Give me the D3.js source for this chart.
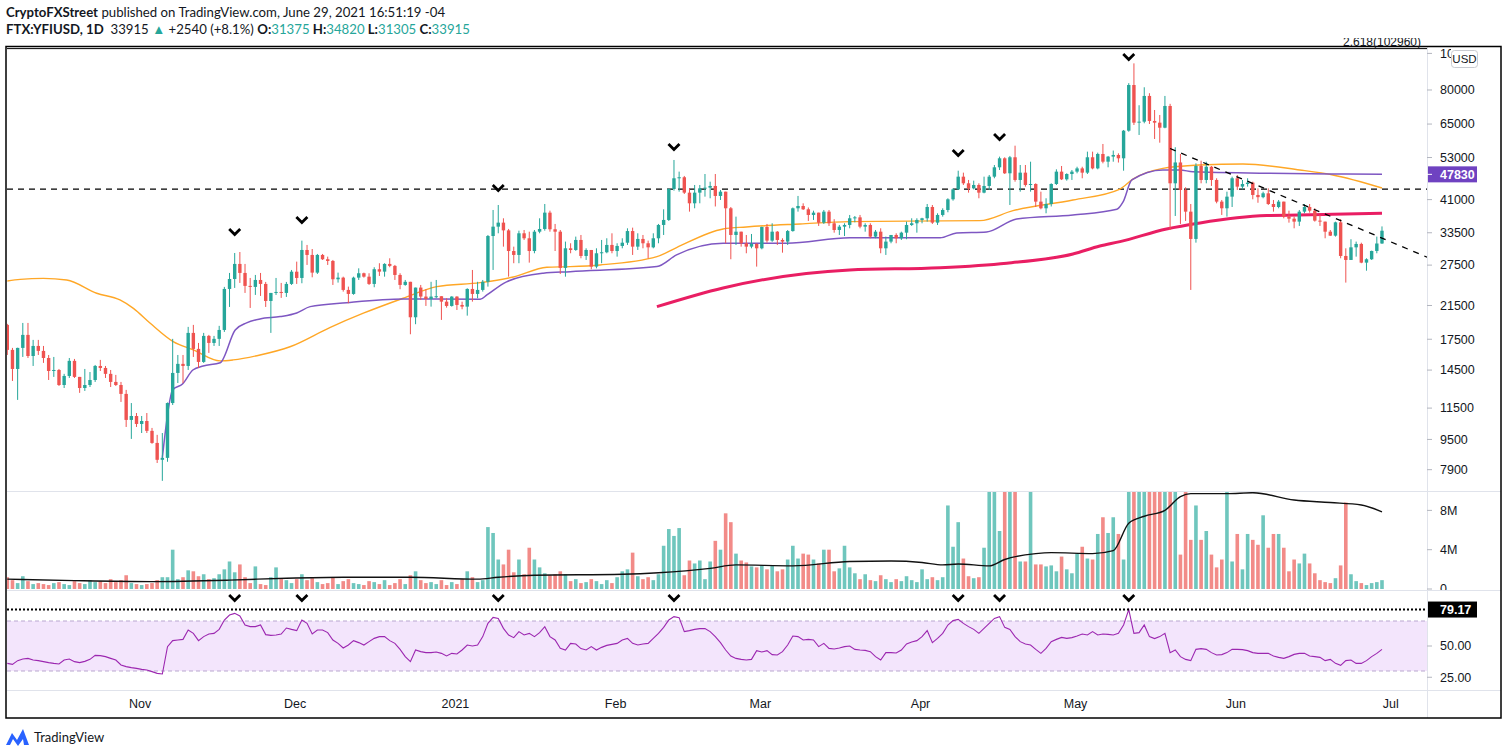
<!DOCTYPE html>
<html><head><meta charset="utf-8">
<script src="https://cdn.jsdelivr.net/npm/d3@7"></script>
<style>html,body{margin:0;padding:0;background:#fff;}svg{display:block;}</style>
</head><body><svg id="c" width="1508" height="755"></svg>
<script>
// ---------------- DATA ----------------
const firstDay = "2020-10-06";
const lastDay = "2021-06-29";
const open = [19100,16400,14600,16600,17970,15800,16800,16300,15610,14420,14510,13240,13990,15340,13910,13000,13240,13650,14870,14690,14170,13490,13240,12540,10700,10960,10440,10630,10010,9300,8390,8490,11860,14250,15060,14870,18190,16500,15240,17860,17110,17540,18520,23780,25270,27700,26220,24230,24080,25120,24520,22100,23210,23350,23210,24520,26420,25430,30160,29260,26270,29260,28500,28210,25230,25480,23640,23070,25480,26170,25630,24520,26820,26430,27700,27370,25900,24370,24840,20010,23980,22700,22380,22700,22750,22010,21440,22700,21570,21350,23780,23070,23640,24840,32840,34770,35630,33990,29970,29260,33390,32390,29970,33720,34280,37870,34220,33720,27040,30470,30160,32060,29080,30160,27250,29560,29740,31100,29970,30910,31530,33850,30780,32260,31420,30650,32390,35130,36220,43740,46700,46990,42780,40090,42780,43920,44100,44560,41930,43040,38890,33050,33720,31420,30780,31290,30470,34700,31930,33720,32060,31740,33850,38890,39440,38650,37340,37870,35630,38100,35490,34070,34770,35130,36590,36800,34770,35130,32720,33720,30470,31740,33050,32390,33520,35130,35490,36220,36590,39200,35630,37340,38490,41080,43650,47160,45290,43920,44830,42780,44560,47160,49930,52750,48140,53080,46220,48330,44830,45100,40500,38890,39920,45100,48630,46400,47930,48630,49600,48330,53080,49600,54160,51670,53290,53830,52750,62420,82470,65550,65950,77150,66230,65550,63570,72570,45290,51430,43480,38100,32260,50330,46220,50100,46220,40500,38890,41750,46700,44380,45100,45470,42180,41620,42610,39920,39200,40500,36960,36500,35850,38100,39200,38330,36070,35850,33720,32910,35700,29080,28380,30650,31290,27920,28500,29980,31375];
const high = [19220,16600,16620,19330,19330,17430,17430,16800,15900,15710,14600,14170,15610,15520,13910,14600,14330,14960,15430,14870,14510,14080,13490,12850,11860,11160,10960,11160,10190,9770,9880,11900,17540,15900,15900,18870,19100,17110,18190,17970,17860,18990,24080,26220,29610,29790,27700,25430,25900,26220,24820,23210,25430,24670,24820,26700,28090,31930,31100,30340,29440,29440,28960,28380,26270,25630,24120,25630,26970,26270,26170,27150,27820,27820,28670,27530,26170,25120,24840,23980,24370,23740,24840,25120,22750,22470,22750,22750,22010,23880,26700,24840,25120,33050,38490,39680,36590,34290,30780,33930,34070,33720,34070,36590,39920,38330,35350,34070,31740,31420,32720,33050,30470,30160,30470,32060,32390,33390,31420,32390,34420,34560,33390,33050,31930,33390,35350,38650,43920,52210,48630,47370,43920,44830,44830,47930,45740,47930,43480,43040,39200,36960,33720,33050,33250,31420,34770,35350,35490,33850,32390,34070,39080,41930,40090,39080,38330,37870,38490,38490,36390,35130,35490,37340,37100,37340,35490,35490,34070,34420,32720,33050,33390,33720,35850,36590,36590,36700,39920,39680,37720,38890,41340,43920,48910,48330,46220,46030,45290,47160,47650,50640,53290,53080,53510,56970,50640,50640,51670,45290,43040,41340,45290,49320,50330,48140,49120,50100,50100,54930,54930,54600,57560,53510,55300,54370,62690,83400,94100,72900,81340,78440,70820,68690,77150,73530,56430,54160,44210,39920,51160,51990,51670,50330,46700,40910,43040,47160,47650,46220,46700,45740,43920,43040,43920,40910,40910,40500,38330,36960,38490,39920,39920,38890,37340,35850,34070,35850,36390,30470,32200,31740,31530,28670,30040,32720,34820];
const low = [15900,13570,12090,15710,15610,14870,15900,15150,13650,13910,13160,13000,13820,13820,12620,12770,13080,13490,14420,13820,13080,13160,11940,10250,9530,10250,9880,9880,9250,8230,7380,8290,11720,13400,13400,14510,15710,14690,15150,16100,16800,16800,18300,21310,23930,24670,23210,21180,22930,22790,21310,18190,22930,22520,22650,24370,24520,24620,27530,25530,26060,28380,27530,24370,24720,23400,21800,22950,25120,25480,24370,24030,25740,25630,27150,25120,23740,24250,18040,19180,22240,21440,21350,22470,19690,21220,21350,20920,21010,20210,22010,22470,23400,24120,26700,33390,30780,25630,27820,27820,32060,27920,29560,33390,33930,33720,29970,26060,25630,29560,30000,28670,28380,26820,26970,27820,29560,29560,28960,30470,31100,29260,30160,30470,28670,30470,31420,33050,36000,43300,43040,42430,38100,38890,40090,41750,41340,39320,40910,31420,28500,31100,30780,29560,30470,27250,30280,31530,31700,31100,29670,31100,33720,38100,38490,36000,36220,34920,35350,34920,33520,33050,32840,34420,35700,34420,33720,32390,32390,29560,29260,31420,31420,32060,32200,34920,33520,35490,35850,35350,35130,36960,37960,40740,43480,44830,42780,43650,41340,42610,43480,46700,49120,47930,39680,45740,43040,44380,43040,39200,38650,37720,39320,44830,46200,46030,46220,48140,46700,47930,49320,49320,51160,49930,51670,51400,48910,62030,64630,60810,65310,65020,59340,58020,63350,34070,37110,35350,36000,23640,31540,45290,45290,44560,40090,37340,36960,39200,43480,43650,44380,41080,40220,41340,39680,38100,38890,36590,35630,34420,34920,37720,37870,35850,34920,32390,32840,32720,28670,24720,28380,28960,27820,26580,28380,29560,31305];
const close = [16400,14600,16600,17970,15800,16800,16300,15610,14420,14510,13240,13990,15340,13910,13000,13240,13650,14870,14690,14170,13490,13240,12540,10700,10960,10440,10630,10010,9300,8390,8490,11860,14250,15060,14870,18190,16500,15240,17860,17110,17540,18520,23780,25270,27700,26220,24230,24080,25120,24520,22100,23210,23350,23210,24520,26420,25430,30160,29260,26270,29260,28500,28210,25230,25480,23640,23070,25480,26170,25630,24520,26820,26430,27700,27370,25900,24370,24840,20010,23980,22700,22380,22700,22750,22010,21440,22700,21570,21350,23780,23070,23640,24840,32840,34770,35630,33990,29970,29260,33390,32390,29970,33720,34280,37870,34220,33720,27040,30470,30160,32060,29080,30160,27250,29560,29740,31100,29970,30910,31530,33850,30780,32260,31420,30650,32390,35130,36220,43740,46700,46990,42780,40090,42780,43920,44100,44560,41930,43040,38890,33050,33720,31420,30780,31290,30470,34700,31930,33720,32060,31740,33850,38890,39440,38650,37340,37870,35630,38100,35490,34070,34770,35130,36590,36800,34770,35130,32720,33720,30470,31740,33050,32390,33520,35130,35490,36220,36590,39200,35630,37340,38490,41080,43650,47160,45290,43920,44830,42780,44560,47160,49930,52750,48140,53080,46220,48330,44830,45100,40500,38890,39920,45100,48630,46400,47930,48630,49600,48330,53080,49600,54160,51670,53290,53830,52750,62420,82470,65550,65950,77150,66230,65550,63570,72570,45290,51430,43480,38100,32260,50330,46220,50100,46220,40500,38890,41750,46700,44380,45100,45470,42180,41620,42610,39920,39200,40500,36960,36500,35850,38100,39200,38330,36070,35850,33720,32910,35700,29080,28380,30650,31290,27920,28500,29980,31375,33915];
// volume in millions of USD
const volumeM = [1.2,0.9,0.6,1.3,0.8,0.5,0.6,0.5,0.4,0.6,0.7,0.5,0.4,0.8,0.6,0.5,0.9,0.7,0.8,0.6,1.0,0.7,0.9,1.4,0.6,0.5,0.4,0.5,0.6,0.9,1.2,1.2,4.0,1.0,1.2,1.9,1.8,1.3,1.5,1.0,1.1,1.5,2.0,2.8,1.7,2.5,1.2,0.6,2.3,0.5,0.4,1.2,2.2,1.0,0.9,0.6,1.0,1.5,0.9,1.1,0.7,0.5,0.6,1.2,0.5,0.8,1.0,0.6,0.5,0.4,0.8,0.7,0.5,0.9,0.4,0.6,1.0,0.5,1.4,1.8,0.9,0.6,0.7,0.5,0.9,0.4,0.7,0.5,1.0,1.8,1.2,0.7,0.9,6.3,5.7,3.0,2.5,4.0,1.7,3.0,1.5,4.2,3.0,2.2,1.6,1.4,1.5,1.8,1.5,0.8,1.0,0.6,0.7,1.0,0.8,0.5,0.9,0.6,1.2,1.8,2.0,3.7,1.3,1.0,1.2,0.9,1.5,4.4,6.1,5.4,6.2,1.4,2.9,2.6,2.9,1.0,2.8,4.9,4.0,7.7,6.8,3.6,2.9,2.7,2.3,2.2,2.4,2.0,2.4,1.8,2.0,3.0,4.4,3.1,3.6,3.5,3.0,2.6,4.0,4.0,1.8,2.1,4.4,2.2,1.6,1.0,1.5,0.9,0.8,1.4,1.0,0.7,1.0,0.8,1.3,0.9,0.7,2.0,1.0,1.2,0.9,1.2,8.5,4.3,6.8,3.1,1.3,1.1,1.2,4.2,12,12,5.9,12,12,12,2.8,2.8,12,2.5,2.5,2.3,2.4,1.8,3.3,2.0,1.6,3.6,4.3,3.1,3.0,5.6,7.3,5.7,7.3,5.6,3.0,12,12,12,12,12,12,12,12,12,12,3.5,12,5.0,8.5,5.0,5.9,3.5,2.2,3.0,12,2.8,5.6,2.0,5.6,5.0,4.5,7.5,4.2,5.6,5.6,4.2,1.8,3.0,2.6,3.6,2.6,1.6,0.9,0.7,0.6,1.1,2.4,8.8,1.5,0.8,0.6,0.4,0.6,0.7,0.9];
const rsi = [36.1,35.3,38.3,39.6,40.1,38.8,38.3,37.5,36.7,36.1,35.6,38.8,39.6,37.5,36.7,37.7,39.3,42.5,42.3,41.5,40.1,38.8,34.8,33.5,32.7,32.1,31.3,30.8,29.5,28.1,27.6,49.5,54.3,54.8,55.3,62.8,60.1,54.3,57.5,59.6,60.1,63.3,70.8,74.8,76.1,74,66.8,65.5,65.5,66.8,59.1,58.5,58.8,59.6,64.4,63.3,62.3,70.8,68.1,59.6,62.8,62.8,60.7,54.8,52.1,48.4,50.8,54.3,52.7,50.8,53.5,56.1,57.5,57.5,54.3,52.1,47.3,41.5,37.5,46.8,45.5,44.7,44.7,45.2,44.1,42,44.1,43.6,46.8,50.8,50,50.8,57.5,68.1,72.9,72.1,64.1,58.8,56.7,61.5,58.8,60.1,57.5,60.7,65.5,57.5,54.8,48.1,46.8,52.1,51.6,47.9,46.8,49.5,46.8,48.9,50.5,51.3,52.1,54.8,56.1,52.1,50.8,51.6,52.1,56.1,60.1,64.9,70.8,73.5,72.7,61.5,62.3,63.3,63.9,63.9,61.5,57.5,52.7,46.8,42,40.1,39.3,38.8,39.3,46.3,45.2,46.3,43.1,42.8,45.5,50.8,58,57.5,54.8,55.3,54.8,49.5,52.1,48.1,47.6,48.4,49.5,50,47.3,46.8,46.5,45.5,41.5,38.8,44.7,44.7,44.4,46.8,51.6,53.2,54.3,57.5,62.3,52.7,56.1,60.1,66.8,70.3,71.3,68.1,65.5,63.3,60.1,64.1,68.1,72.1,73.5,64.9,63.3,57.5,53.5,51.6,50.8,47.3,44.1,48.1,53.5,55.3,56.9,56.1,56.7,58,59.6,58.8,61.5,58.8,59.6,59.3,58.8,60.1,66.8,79.17,60.1,60.7,66.8,57.5,55.9,57.5,60.1,44.7,46.8,41.5,39.3,38.3,47.3,47.9,47.3,44.7,42.8,43.1,44.7,47.3,47.3,47.1,46.3,44.7,44.1,44.1,44.1,42,40.9,40.1,41.5,43.3,44.1,44.1,42,41.5,40.9,38.3,39.3,36.1,34.5,38.3,38.8,36.1,36.1,38.3,41.5,44.1,47.3];
// moving-average lines (candle index, value)
const orangeAt = [0,2.5,7,11.5,17.3,21.8,24.4,27.6,32.1,36,41.2,43.7,48.9,54.7,62.4,68.9,76.6,83.1,91.5,97.9,104.4,108.9,114.7,125.7,129.5,138.5,143,153.4,163,188.2,194.6,206.2,215.3,217.8,223.6,230.8,239.1,250.1,256.5,266];
const orangeVal = [24970,25210,25370,25120,23170,22240,21130,19320,17250,16400,15340,15430,15900,16720,18790,20510,22470,24120,24720,25580,27150,27250,27530,28960,30600,34280,34700,35350,35860,36070,38330,40910,43740,46460,49600,50640,50960,49120,47650,44010];
const purpleAt = [30,32,33.9,35.9,37.9,41.2,44.1,46.3,48.9,52.8,56,58.6,65.7,76.6,91.5,92.8,96.6,103.7,108.9,125.7,129.5,138.5,150.8,163,180.5,183.7,189.5,195.3,206.2,214.7,215.9,217.6,223.6,226.9,229.4,256.5,266];
const purpleVal = [8490,12850,13320,14510,14870,15170,18520,19330,19810,20090,20540,21350,21870,22370,22320,22930,24840,26170,26430,27250,29260,31420,31420,32480,32480,33460,33660,36410,37340,38650,40420,46220,49120,49120,48600,47950,47830];
const ma200At = [125.7,138.5,163,180.5,193.4,206.2,211.4,215.3,224.3,230.8,243.7,256.5,266];
const ma200Val = [21350,23930,26700,27060,27820,29440,30900,31740,34280,35560,37190,37490,37720];
const volMaAt = [0,13,28,43,54,65,78,91,95,102,119,126,136,141,152,163,171,177,181,184,190,193,199,202,210,214,217,220,224,227,229,236,241,249,256,262,266];
const volMaVal = [1.0,0.85,0.75,0.9,1.1,1.2,1.2,1.0,1.2,1.4,1.5,1.65,2.1,2.45,2.35,2.8,2.85,2.7,2.45,2.55,2.35,3.0,3.6,3.7,3.6,3.9,6.7,7.4,8.0,9.4,9.7,9.7,9.8,9.05,8.8,8.55,7.85];
const peakIdx = [44,57,95,129,184,192,217];
const peakMarkPrice = [33650,36220,44010,56520,54470,60100,97790];
const resistance = 43700;
const trendDates = ["2021-05-19","2021-06-28"];
const trendPrices = [56000,32860];
const fibLevel = 102960;
const fibLabel = "2.618(102960)";
const rsiMaxLevel = 79.17;
const priceTicks = [100000,80000,65000,53000,41000,33500,27500,21500,17500,14500,11500,9500,7900];
const volTicks = [0,4,8];
const rsiTicks = [25,50];
const lastPurple = 47830;

// ---------------- LAYOUT ----------------
const W = 1508, H = 755;
const PL = 7, PR = 1427, AXR = 1501;
const mainTop = 47, mainBot = 491, volTop = 492, volBot = 590, rsiTop = 590, rsiBot = 690, axisBot = 718;
const up = "#26a69a", dn = "#ef5350";
const FONT = "'Liberation Sans', Arial, sans-serif";

const parse = d3.utcParse("%Y-%m-%d");
const d0 = parse(firstDay);
const dates = d3.utcDay.range(d0, d3.utcDay.offset(parse(lastDay), 1));
const dayMs = 864e5;
const x = d3.scaleUtc()
  .domain([new Date(d0.getTime() - 0.058 * dayMs), new Date(d0.getTime() + 274.71 * dayMs)])
  .range([PL, PR]);
const xi = i => x(new Date(d0.getTime() + i * dayMs));
const y = d3.scaleLog().domain([6937, 103980]).range([mainBot, mainTop]);
const yv = d3.scaleLinear().domain([0, 9.87]).range([589, volTop]);
const yr = d3.scaleLinear().domain([0, 100]).range([708.5, 583.5]);

const svg = d3.select("#c").style("font-family", FONT);
svg.append("rect").attr("width", W).attr("height", H).attr("fill", "#fff");
const defs = svg.append("defs");
function clip(id, x0, y0, w, h) {
  defs.append("clipPath").attr("id", id).append("rect").attr("x", x0).attr("y", y0).attr("width", w).attr("height", h);
}
clip("cMain", PL, mainTop, PR - PL, mainBot - mainTop);
clip("cVol", PL, volTop, PR - PL, volBot - volTop);
clip("cRsi", PL, rsiTop, PR - PL, rsiBot - rsiTop);
clip("cVolAx", PR, volTop, AXR - PR, volBot - volTop);
clip("cTopTick", PR, mainTop, 24, 30);
clip("cFib", 1200, 38, 227, 10);

// ---------- header ----------
const h1 = svg.append("text").attr("x", 6).attr("y", 17).attr("font-size", 13.2).attr("fill", "#131722").attr("font-family", "Lato, sans-serif");
h1.append("tspan").attr("font-weight", "bold").text("CryptoFXStreet");
h1.append("tspan").text(" published on TradingView.com, June 29, 2021 16:51:19 -04");
const h2 = svg.append("text").attr("x", 6).attr("y", 34).attr("font-size", 13.2).attr("fill", "#131722").attr("font-family", "Lato, sans-serif").attr("xml:space", "preserve");
const lastI = close.length - 1;
const chg = close[lastI] - close[lastI - 1];
h2.append("tspan").attr("font-weight", "bold").text("FTX:YFIUSD, 1D");
h2.append("tspan").text("  " + close[lastI] + " ");
h2.append("tspan").attr("fill", up).text("▲");
h2.append("tspan").text(" +" + chg + " (+" + (chg / close[lastI - 1] * 100).toFixed(1) + "%) ");
[["O:", open[lastI]], [" H:", high[lastI]], [" L:", low[lastI]], [" C:", close[lastI]]].forEach(([k, v]) => {
  h2.append("tspan").attr("font-weight", "bold").text(k);
  h2.append("tspan").attr("fill", up).text(v);
});

// ---------- frame / separators ----------
const g = svg.append("g");
g.append("line").attr("x1", PR + 0.5).attr("x2", PR + 0.5).attr("y1", mainTop).attr("y2", axisBot).attr("stroke", "#e0e3eb");
[mainBot + 0.5, volBot + 0.5, rsiBot + 0.5].forEach(yy =>
  g.append("line").attr("x1", PL).attr("x2", AXR).attr("y1", yy).attr("y2", yy).attr("stroke", "#e0e3eb"));

// ---------- main pane ----------
const main = svg.append("g").attr("clip-path", "url(#cMain)");
main.append("line").attr("x1", PL).attr("x2", PR).attr("y1", y(resistance)).attr("y2", y(resistance))
  .attr("stroke", "#000").attr("stroke-width", 1.3).attr("stroke-dasharray", "6,5");
main.append("line").attr("x1", PL).attr("x2", PR).attr("y1", y(fibLevel)).attr("y2", y(fibLevel))
  .attr("stroke", "#000").attr("stroke-width", 1);
const mkLine = (at, val, sc) => d3.line().curve(d3.curveMonotoneX).x((d, k) => xi(at[k])).y((d, k) => sc(val[k]))(val);
main.append("path").attr("d", mkLine(orangeAt, orangeVal, y)).attr("fill", "none").attr("stroke", "#ffa726").attr("stroke-width", 1.4);
main.append("path").attr("d", mkLine(purpleAt, purpleVal, y)).attr("fill", "none").attr("stroke", "#7e57c2").attr("stroke-width", 1.5);
main.append("path").attr("d", mkLine(ma200At, ma200Val, y)).attr("fill", "none").attr("stroke", "#e91e63").attr("stroke-width", 3);
const cg = main.append("g");
close.forEach((c, i) => {
  const o = open[i], col = c >= o ? up : dn, cx = xi(i);
  cg.append("line").attr("x1", cx).attr("x2", cx).attr("y1", y(high[i])).attr("y2", y(low[i])).attr("stroke", col).attr("stroke-width", 1);
  const yt = y(Math.max(o, c)), yb = y(Math.min(o, c));
  cg.append("rect").attr("x", cx - 1.7).attr("width", 3.4).attr("y", yt).attr("height", Math.max(1, yb - yt)).attr("fill", col);
});
{
  const t1 = parse(trendDates[0]), t2 = parse(trendDates[1]);
  const xa = x(t1), xb = x(t2), ya = y(trendPrices[0]), yb = y(trendPrices[1]);
  const slope = (yb - ya) / (xb - xa);
  main.append("line").attr("x1", xa).attr("y1", ya).attr("x2", PR).attr("y2", ya + slope * (PR - xa))
    .attr("stroke", "#000").attr("stroke-width", 1.3).attr("stroke-dasharray", "6,6");
}
const chev = (sel, cx, cy) => sel.append("path").attr("d", `M${cx - 5.5},${cy - 3} L${cx},${cy + 2.5} L${cx + 5.5},${cy - 3}`)
  .attr("fill", "none").attr("stroke", "#000").attr("stroke-width", 2.8).attr("stroke-linejoin", "miter");
peakIdx.forEach((i, k) => chev(svg, xi(i), y(peakMarkPrice[k])));

// price axis
const pa = svg.append("g");
priceTicks.forEach((p, k) => {
  const yy = y(p);
  pa.append("line").attr("x1", PR).attr("x2", PR + 5).attr("y1", yy).attr("y2", yy).attr("stroke", "#b2b5be");
  const t = pa.append("text").attr("x", PR + 13).attr("y", yy + 4.3).attr("font-size", 12.5).attr("fill", "#131722").text(p);
  if (k === 0) t.attr("clip-path", "url(#cTopTick)");
});
pa.append("rect").attr("x", 1451.5).attr("y", 50.5).attr("width", 26).attr("height", 17).attr("rx", 3)
  .attr("fill", "#fff").attr("stroke", "#c9cbd1");
pa.append("text").attr("x", 1464.5).attr("y", 63).attr("text-anchor", "middle").attr("font-size", 11.5).attr("fill", "#131722").text("USD");
{
  const yy = y(lastPurple);
  pa.append("rect").attr("x", PR + 1).attr("y", yy - 8).attr("width", 49).attr("height", 16).attr("fill", "#6f42c1");
  pa.append("line").attr("x1", PR).attr("x2", PR + 5).attr("y1", yy).attr("y2", yy).attr("stroke", "#fff");
  pa.append("text").attr("x", PR + 13).attr("y", yy + 4.5).attr("font-size", 12.5).attr("font-weight", "bold").attr("fill", "#fff").text(lastPurple);
}

// ---------- volume pane ----------
const vol = svg.append("g").attr("clip-path", "url(#cVol)");
volumeM.forEach((v, i) => {
  const col = close[i] >= open[i] ? "#6fc6bd" : "#f28b88";
  vol.append("rect").attr("x", xi(i) - 1.8).attr("width", 3.6).attr("y", yv(v)).attr("height", yv(0) - yv(v)).attr("fill", col);
});
vol.append("path").attr("d", mkLine(volMaAt, volMaVal, yv)).attr("fill", "none").attr("stroke", "#111").attr("stroke-width", 1.4);
const va = svg.append("g").attr("clip-path", "url(#cVolAx)");
volTicks.forEach(t => {
  const yy = yv(t);
  va.append("line").attr("x1", PR).attr("x2", PR + 5).attr("y1", yy).attr("y2", yy).attr("stroke", "#b2b5be");
  va.append("text").attr("x", PR + 13).attr("y", yy + 4.3).attr("font-size", 12.5).attr("fill", "#131722").text(t === 0 ? "0" : t + "M");
});

// ---------- RSI pane ----------
const rp = svg.append("g").attr("clip-path", "url(#cRsi)");
rp.append("rect").attr("x", PL).attr("width", PR - PL).attr("y", yr(70)).attr("height", yr(30) - yr(70)).attr("fill", "#f3e5fc");
[70, 30].forEach(l => rp.append("line").attr("x1", PL).attr("x2", PR).attr("y1", yr(l)).attr("y2", yr(l))
  .attr("stroke", "#b9a7cf").attr("stroke-dasharray", "4,3"));
rp.append("path").attr("d", d3.line().x((d, i) => xi(i)).y(d => yr(d))(rsi)).attr("fill", "none").attr("stroke", "#9c27b0").attr("stroke-width", 1.1);
svg.append("line").attr("x1", PL).attr("x2", PR).attr("y1", yr(rsiMaxLevel)).attr("y2", yr(rsiMaxLevel))
  .attr("stroke", "#000").attr("stroke-width", 2).attr("stroke-dasharray", "2,2");
peakIdx.forEach(i => chev(svg, xi(i), 598));
const ra = svg.append("g");
rsiTicks.forEach(t => {
  const yy = yr(t);
  ra.append("line").attr("x1", PR).attr("x2", PR + 5).attr("y1", yy).attr("y2", yy).attr("stroke", "#b2b5be");
  ra.append("text").attr("x", PR + 13).attr("y", yy + 4.3).attr("font-size", 12.5).attr("fill", "#131722").text(t.toFixed(2));
});
{
  const yy = yr(rsiMaxLevel);
  ra.append("rect").attr("x", PR + 1).attr("y", yy - 8).attr("width", 49).attr("height", 16).attr("fill", "#000");
  ra.append("text").attr("x", PR + 13).attr("y", yy + 4.5).attr("font-size", 12.5).attr("font-weight", "bold").attr("fill", "#fff").text(rsiMaxLevel.toFixed(2));
}

// ---------- time axis ----------
const months = d3.utcMonth.range(new Date(Date.UTC(2020, 10, 1)), new Date(Date.UTC(2021, 6, 2)));
const fmt = d => d.getUTCMonth() === 0 ? d3.utcFormat("%Y")(d) : d3.utcFormat("%b")(d);
months.forEach(m => {
  svg.append("text").attr("x", x(m) - 1.5).attr("y", 708).attr("text-anchor", "middle").attr("font-size", 12.5).attr("fill", "#131722").text(fmt(m));
});

svg.append("rect").attr("x", 6).attr("y", mainTop - 0.5).attr("width", AXR - 6).attr("height", axisBot - mainTop + 0.5)
  .attr("fill", "none").attr("stroke", "#000").attr("stroke-width", 1.5);

svg.append("text").attr("x", 1382).attr("y", y(fibLevel) - 2.5).attr("text-anchor", "middle").attr("font-size", 12).attr("fill", "#131722")
  .attr("clip-path", "url(#cFib)").text(fibLabel);

// ---------- footer logo ----------
const lg = svg.append("g").attr("transform", "translate(6,728)");
lg.append("path").attr("d", "M0,17 L6,5 L11,12 L17,1 L23,17 L18,17 L17,11 L12,18 L7,11 L4,17 Z").attr("fill", "#2962ff");
svg.append("text").attr("x", 34).attr("y", 742).attr("font-size", 13).attr("fill", "#131722").attr("font-family", "Lato, sans-serif").text("TradingView");
</script></body></html>
